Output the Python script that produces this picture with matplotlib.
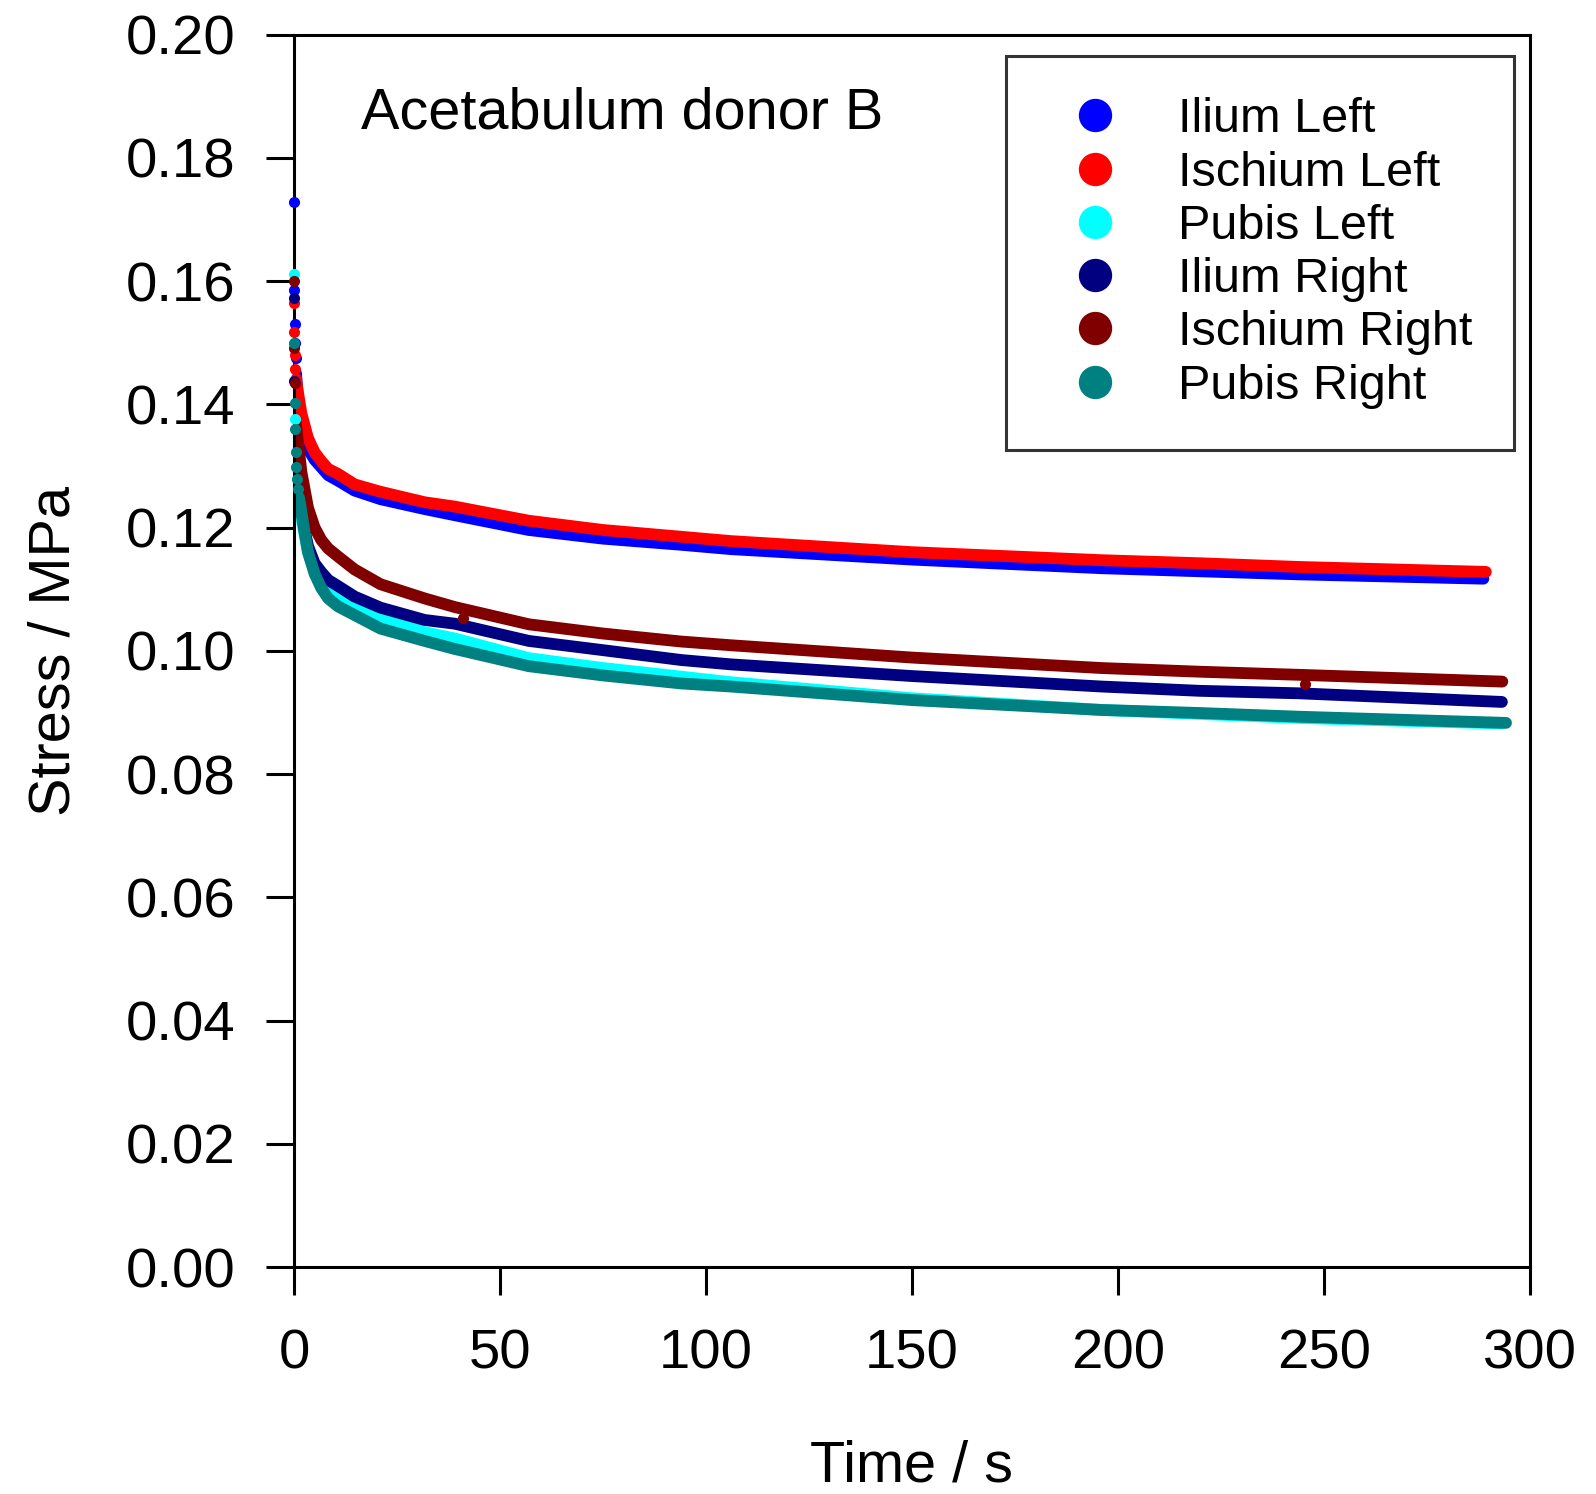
import matplotlib
matplotlib.use("Agg")
import matplotlib.pyplot as plt
from matplotlib.lines import Line2D

plt.rcParams["font.family"] = ["Liberation Sans", "DejaVu Sans"]

labels = ["Ilium Left", "Ischium Left", "Pubis Left",
          "Ilium Right", "Ischium Right", "Pubis Right"]
colors = ["#0000FF", "#FF0000", "#00FFFF", "#000080", "#800000", "#008080"]

# first samples right after loading (separate dots near t = 0) + stray points
dots_t = [
    [0.0, 0.1, 0.2, 0.3, 0.4],
    [0.0, 0.1, 0.2, 0.3, 0.4],
    [0.0, 0.2],
    [0.0, 0.1],
    [0.0, 0.1, 0.2, 41.0, 245.5],
    [0.0, 0.15, 0.3, 0.45, 0.6, 0.8, 1.0],
]
dots_s = [
    [0.1729, 0.1585, 0.1531, 0.1500, 0.1475],
    [0.1564, 0.1518, 0.1480, 0.1458, 0.1443],
    [0.1611, 0.1376],
    [0.1572, 0.1438],
    [0.1600, 0.1491, 0.1434, 0.1053, 0.0946],
    [0.1499, 0.1402, 0.1360, 0.1322, 0.1298, 0.1278, 0.1262],
]

# relaxation curves
time_s = [
    [0.5, 1, 1.8, 3.4, 5, 6.6, 8.3, 10.7, 14.7, 21, 31.7, 39, 57, 75, 94, 106, 150, 196, 220, 244, 288.7],
    [0.5, 1, 1.8, 3.4, 5, 6.6, 8.3, 10.7, 14.7, 21, 31.7, 39, 57, 75, 94, 106, 150, 196, 220, 244, 289.3],
    [0.5, 1, 1.8, 3.4, 5, 6.6, 8.3, 10.7, 14.7, 21, 31.7, 39, 57, 75, 94, 106, 150, 196, 244, 293],
    [0.3, 1, 1.8, 2.6, 3.4, 5, 6.6, 8.3, 10.7, 14.7, 21, 31.7, 39, 57, 75, 94, 106, 150, 196, 220, 244, 293.2],
    [0.4, 1, 1.8, 3.4, 5, 6.6, 8.3, 10.7, 14.7, 21, 31.7, 39, 57, 75, 94, 106, 150, 196, 220, 244, 293.3],
    [1.2, 1.6, 2.5, 3.4, 5, 6.6, 8.3, 10.7, 14.7, 21, 31.7, 39, 57, 75, 94, 106, 150, 196, 220, 244, 294.2],
]
stress = [
    [0.1450, 0.1405, 0.1370, 0.1328, 0.1310, 0.1298, 0.1285, 0.1276, 0.1260, 0.1246, 0.1230,
     0.1220, 0.1196, 0.1182, 0.1172, 0.1165, 0.1148, 0.1134, 0.1129, 0.1124, 0.1117],
    [0.1440, 0.1418, 0.1385, 0.1345, 0.1322, 0.1308, 0.1295, 0.1287, 0.1270, 0.1258, 0.1241,
     0.1234, 0.1211, 0.1196, 0.1185, 0.1178, 0.1160, 0.1147, 0.1142, 0.1136, 0.1128],
    [0.1300, 0.1260, 0.1215, 0.1160, 0.1128, 0.1108, 0.1093, 0.1082, 0.1068, 0.1052, 0.1030,
     0.1020, 0.0988, 0.0972, 0.0958, 0.0949, 0.0923, 0.0904, 0.0891, 0.0882],
    [0.1340, 0.1280, 0.1230, 0.1195, 0.1170, 0.1142, 0.1128, 0.1115, 0.1105, 0.1088, 0.1070,
     0.1050, 0.1044, 0.1016, 0.1001, 0.0985, 0.0978, 0.0959, 0.0942, 0.0935, 0.0931, 0.0917],
    [0.1370, 0.1337, 0.1290, 0.1232, 0.1200, 0.1180, 0.1166, 0.1153, 0.1132, 0.1108, 0.1085,
     0.1071, 0.1043, 0.1028, 0.1015, 0.1009, 0.0989, 0.0972, 0.0966, 0.0961, 0.0950],
    [0.1249, 0.1234, 0.1195, 0.1160, 0.1125, 0.1102, 0.1085, 0.1072, 0.1058, 0.1036, 0.1016,
     0.1003, 0.0975, 0.0960, 0.0947, 0.0942, 0.0920, 0.0904, 0.0899, 0.0893, 0.0883],
]

fig = plt.figure(figsize=(15.96, 14.94), dpi=100)
ax = fig.add_axes([0.1842, 0.1519, 0.7744, 0.825])

for i in range(len(labels)):
    ax.plot(time_s[i], stress[i], color=colors[i], lw=8.5,
            solid_capstyle="round", solid_joinstyle="round", zorder=2)
    ax.plot(dots_t[i], dots_s[i], "o", color=colors[i], ms=8,
            mec="none", clip_on=False, zorder=3)

ax.set_xlim(0, 300)
ax.set_ylim(0, 0.2)
ax.set_xticks(range(0, 301, 50))
ax.set_yticks([i * 0.02 for i in range(11)])
ax.set_yticklabels([f"{i * 0.02:.2f}" for i in range(11)])

for sp in ax.spines.values():
    sp.set_linewidth(2.2)
ax.tick_params(direction="out", length=20, width=2.2, labelsize=40.5)
ax.tick_params(axis="x", pad=24)
ax.tick_params(axis="y", pad=22)

ax.set_xlabel("Time / s", fontsize=41.5)
ax.set_ylabel("Stress / MPa", fontsize=41.5)
ax.xaxis.set_label_coords(0.5, -0.140)
ax.yaxis.set_label_coords(-0.172, 0.5)

ax.text(0.054, 0.924, "Acetabulum donor B", transform=ax.transAxes,
        fontsize=41.5, va="baseline", ha="left")

handles = [Line2D([], [], ls="none", marker="o", ms=24, mec="none", color=c)
           for c in colors]
leg = ax.legend(handles, labels, loc="upper left",
                bbox_to_anchor=(0.576, 0.9826), fontsize=35,
                frameon=True, fancybox=False, edgecolor="black",
                borderpad=0.85, handlelength=1.96, handletextpad=0.74,
                labelspacing=0.17, borderaxespad=0)
leg.get_frame().set_linewidth(2.2)

fig.savefig("out.png", dpi=100)
plt.close(fig)
